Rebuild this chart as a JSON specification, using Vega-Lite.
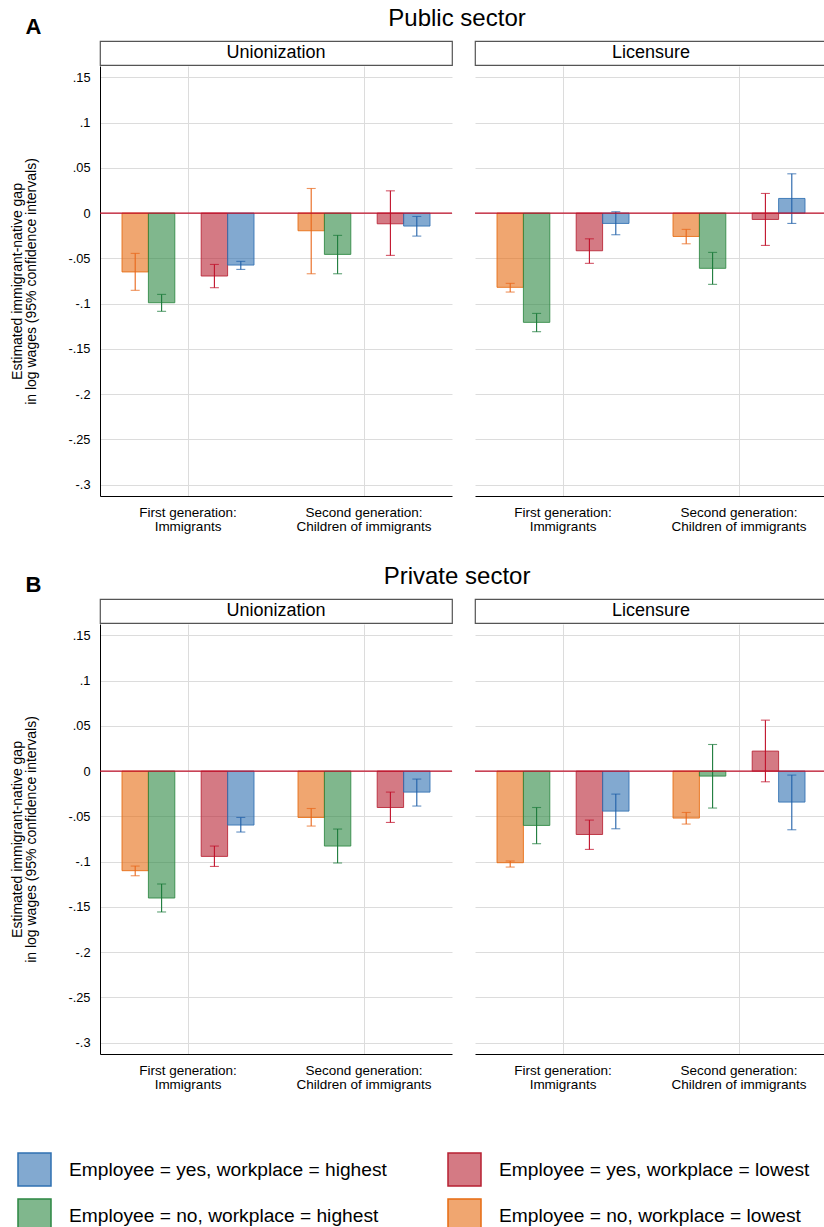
{
  "$schema": "https://vega.github.io/schema/vega-lite/v6.json",
  "background": "white",
  "padding": {"left": 10, "top": 7, "right": 5, "bottom": 5},
  "datasets": {
    "gaps": [
      {"sector": "Public sector", "measure": "Unionization", "generation": "First generation: Immigrants", "series": "Employee = no, workplace = lowest", "est": -0.065, "lo": -0.0853, "hi": -0.0445},
      {"sector": "Public sector", "measure": "Unionization", "generation": "First generation: Immigrants", "series": "Employee = no, workplace = highest", "est": -0.099, "lo": -0.1085, "hi": -0.0898},
      {"sector": "Public sector", "measure": "Unionization", "generation": "First generation: Immigrants", "series": "Employee = yes, workplace = lowest", "est": -0.0695, "lo": -0.0824, "hi": -0.0567},
      {"sector": "Public sector", "measure": "Unionization", "generation": "First generation: Immigrants", "series": "Employee = yes, workplace = highest", "est": -0.0574, "lo": -0.0622, "hi": -0.0533},
      {"sector": "Public sector", "measure": "Unionization", "generation": "Second generation: Children of immigrants", "series": "Employee = no, workplace = lowest", "est": -0.0195, "lo": -0.067, "hi": 0.0272},
      {"sector": "Public sector", "measure": "Unionization", "generation": "Second generation: Children of immigrants", "series": "Employee = no, workplace = highest", "est": -0.0456, "lo": -0.067, "hi": -0.0246},
      {"sector": "Public sector", "measure": "Unionization", "generation": "Second generation: Children of immigrants", "series": "Employee = yes, workplace = lowest", "est": -0.0118, "lo": -0.0467, "hi": 0.0246},
      {"sector": "Public sector", "measure": "Unionization", "generation": "Second generation: Children of immigrants", "series": "Employee = yes, workplace = highest", "est": -0.0143, "lo": -0.0254, "hi": -0.0037},
      {"sector": "Public sector", "measure": "Licensure", "generation": "First generation: Immigrants", "series": "Employee = no, workplace = lowest", "est": -0.082, "lo": -0.0872, "hi": -0.0776},
      {"sector": "Public sector", "measure": "Licensure", "generation": "First generation: Immigrants", "series": "Employee = no, workplace = highest", "est": -0.1207, "lo": -0.131, "hi": -0.1108},
      {"sector": "Public sector", "measure": "Licensure", "generation": "First generation: Immigrants", "series": "Employee = yes, workplace = lowest", "est": -0.0416, "lo": -0.0555, "hi": -0.0284},
      {"sector": "Public sector", "measure": "Licensure", "generation": "First generation: Immigrants", "series": "Employee = yes, workplace = highest", "est": -0.0114, "lo": -0.0239, "hi": 0.0015},
      {"sector": "Public sector", "measure": "Licensure", "generation": "Second generation: Children of immigrants", "series": "Employee = no, workplace = lowest", "est": -0.0258, "lo": -0.0339, "hi": -0.018},
      {"sector": "Public sector", "measure": "Licensure", "generation": "Second generation: Children of immigrants", "series": "Employee = no, workplace = highest", "est": -0.061, "lo": -0.0787, "hi": -0.0434},
      {"sector": "Public sector", "measure": "Licensure", "generation": "Second generation: Children of immigrants", "series": "Employee = yes, workplace = lowest", "est": -0.007, "lo": -0.0357, "hi": 0.0217},
      {"sector": "Public sector", "measure": "Licensure", "generation": "Second generation: Children of immigrants", "series": "Employee = yes, workplace = highest", "est": 0.0162, "lo": -0.0114, "hi": 0.0434},
      {"sector": "Private sector", "measure": "Unionization", "generation": "First generation: Immigrants", "series": "Employee = no, workplace = lowest", "est": -0.11, "lo": -0.1156, "hi": -0.1049},
      {"sector": "Private sector", "measure": "Unionization", "generation": "First generation: Immigrants", "series": "Employee = no, workplace = highest", "est": -0.1402, "lo": -0.1556, "hi": -0.1247},
      {"sector": "Private sector", "measure": "Unionization", "generation": "First generation: Immigrants", "series": "Employee = yes, workplace = lowest", "est": -0.0942, "lo": -0.1053, "hi": -0.0828},
      {"sector": "Private sector", "measure": "Unionization", "generation": "First generation: Immigrants", "series": "Employee = yes, workplace = highest", "est": -0.0596, "lo": -0.0673, "hi": -0.0512},
      {"sector": "Private sector", "measure": "Unionization", "generation": "Second generation: Children of immigrants", "series": "Employee = no, workplace = lowest", "est": -0.0512, "lo": -0.0607, "hi": -0.0413},
      {"sector": "Private sector", "measure": "Unionization", "generation": "Second generation: Children of immigrants", "series": "Employee = no, workplace = highest", "est": -0.0828, "lo": -0.1015, "hi": -0.064},
      {"sector": "Private sector", "measure": "Unionization", "generation": "Second generation: Children of immigrants", "series": "Employee = yes, workplace = lowest", "est": -0.0402, "lo": -0.0567, "hi": -0.0232},
      {"sector": "Private sector", "measure": "Unionization", "generation": "Second generation: Children of immigrants", "series": "Employee = yes, workplace = highest", "est": -0.0232, "lo": -0.0386, "hi": -0.0088},
      {"sector": "Private sector", "measure": "Licensure", "generation": "First generation: Immigrants", "series": "Employee = no, workplace = lowest", "est": -0.1012, "lo": -0.106, "hi": -0.0993},
      {"sector": "Private sector", "measure": "Licensure", "generation": "First generation: Immigrants", "series": "Employee = no, workplace = highest", "est": -0.06, "lo": -0.0802, "hi": -0.0402},
      {"sector": "Private sector", "measure": "Licensure", "generation": "First generation: Immigrants", "series": "Employee = yes, workplace = lowest", "est": -0.07, "lo": -0.0865, "hi": -0.0541},
      {"sector": "Private sector", "measure": "Licensure", "generation": "First generation: Immigrants", "series": "Employee = yes, workplace = highest", "est": -0.0442, "lo": -0.0637, "hi": -0.0254},
      {"sector": "Private sector", "measure": "Licensure", "generation": "Second generation: Children of immigrants", "series": "Employee = no, workplace = lowest", "est": -0.0519, "lo": -0.0585, "hi": -0.0457},
      {"sector": "Private sector", "measure": "Licensure", "generation": "Second generation: Children of immigrants", "series": "Employee = no, workplace = highest", "est": -0.0055, "lo": -0.0408, "hi": 0.0294},
      {"sector": "Private sector", "measure": "Licensure", "generation": "Second generation: Children of immigrants", "series": "Employee = yes, workplace = lowest", "est": 0.0221, "lo": -0.0118, "hi": 0.0563},
      {"sector": "Private sector", "measure": "Licensure", "generation": "Second generation: Children of immigrants", "series": "Employee = yes, workplace = highest", "est": -0.0342, "lo": -0.0648, "hi": -0.0044}
    ]
  },
  "config": {
    "font": "Liberation Sans",
    "view": {"stroke": null},
    "title": {"font": "Liberation Sans", "color": "black", "fontWeight": "normal"},
    "axis": {"labelFont": "Liberation Sans", "titleFont": "Liberation Sans", "labelColor": "black", "titleColor": "black", "gridColor": "#dcdcdc", "domainColor": "black", "ticks": false},
    "axisX": {"labelAngle": 0},
    "legend": {"labelFont": "Liberation Sans", "labelColor": "black"},
    "text": {"font": "Liberation Sans"}
  },
  "resolve": {"scale": {"fill": "shared", "stroke": "shared", "color": "shared"}},
  "spacing": 32,
  "vconcat": [
    {
      "title": {"text": "A", "anchor": "start", "frame": "bounds", "fontSize": 22, "fontWeight": "bold", "offset": -32, "dx": 15},
      "vconcat": [
        {
          "title": {"text": "Public sector", "anchor": "middle", "frame": "bounds", "fontSize": 24, "dx": 38, "offset": 9},
          "spacing": 21,
          "hconcat": [
            {
              "bounds": "flush",
              "spacing": 1,
              "vconcat": [
                {"width": 352, "height": 24, "view": {"stroke": "#555", "strokeWidth": 1.2}, "data": {"values": [{"measure": "Unionization"}]}, "mark": {"type": "text", "fontSize": 18, "color": "black"}, "encoding": {"text": {"field": "measure"}}},
                {
                  "width": 352, "height": 430,
                  "data": {"name": "gaps"},
                  "transform": [{"filter": "datum.sector === 'Public sector' && datum.measure === 'Unionization'"}],
                  "layer": [
                    {"mark": {"type": "bar", "fillOpacity": 0.6, "strokeWidth": 1, "strokeOpacity": 0.85},
                     "encoding": {
                       "x": {"field": "generation", "type": "nominal", "title": null, "scale": {"domain": ["First generation: Immigrants", "Second generation: Children of immigrants"], "paddingInner": 0.25, "paddingOuter": 0.125}, "axis": {"title": null, "grid": true, "bandPosition": 0.5, "labelAngle": 0, "labelFontSize": 13.5, "labelLineHeight": 14, "labelPadding": 9, "labelExpr": "[slice(datum.label, 0, indexof(datum.label, ':') + 1), slice(datum.label, indexof(datum.label, ':') + 2)]"}},
                       "xOffset": {"field": "series", "type": "nominal", "scale": {"domain": ["Employee = no, workplace = lowest", "Employee = no, workplace = highest", " ", "Employee = yes, workplace = lowest", "Employee = yes, workplace = highest"], "paddingInner": 0, "paddingOuter": 0}},
                       "y": {"field": "est", "type": "quantitative", "title": ["Estimated immigrant-native gap", "in log wages (95% confidence intervals)"], "scale": {"domain": [-0.3125, 0.1625], "nice": false, "zero": false}, "axis": {"values": [0.15, 0.1, 0.05, 0, -0.05, -0.1, -0.15, -0.2, -0.25, -0.3], "labelExpr": "replace(toString(datum.value), '0.', '.')", "labelFontSize": 12.8, "labelPadding": 10, "titleFontSize": 14, "titleLineHeight": 14.5, "titleFontWeight": "normal", "titlePadding": 29}},
                       "fill": {"field": "series", "type": "nominal", "title": null, "scale": {"domain": ["Employee = yes, workplace = highest", "Employee = yes, workplace = lowest", "Employee = no, workplace = highest", "Employee = no, workplace = lowest"], "range": ["#2F70B1", "#B72132", "#2B8741", "#E66B11"]}, "legend": {"orient": "none", "legendX": -83, "legendY": 1111, "direction": "horizontal", "columns": 2, "symbolType": "square", "symbolSize": 1089, "symbolStrokeWidth": 1.5, "labelFontSize": 19.2, "labelOffset": 17, "columnPadding": 58, "rowPadding": 7, "labelLimit": 400, "encode": {"symbols": {"update": {"fillOpacity": {"value": 0.6}}}}}},
                       "stroke": {"field": "series", "type": "nominal", "title": null, "scale": {"domain": ["Employee = yes, workplace = highest", "Employee = yes, workplace = lowest", "Employee = no, workplace = highest", "Employee = no, workplace = lowest"], "range": ["#2F70B1", "#B72132", "#2B8741", "#E66B11"]}}
                     }},
                    {"mark": {"type": "rule", "strokeWidth": 1.1},
                     "encoding": {
                       "x": {"field": "generation", "type": "nominal", "title": null},
                       "xOffset": {"field": "series", "type": "nominal"},
                       "y": {"field": "lo", "type": "quantitative", "title": ["Estimated immigrant-native gap", "in log wages (95% confidence intervals)"]},
                       "y2": {"field": "hi"},
                       "color": {"field": "series", "type": "nominal", "legend": null, "scale": {"domain": ["Employee = yes, workplace = highest", "Employee = yes, workplace = lowest", "Employee = no, workplace = highest", "Employee = no, workplace = lowest"], "range": ["#2060A8", "#C0102A", "#1B7A3A", "#E8661A"]}}
                     }},
                    {"mark": {"type": "tick", "size": 9, "thickness": 1.1},
                     "encoding": {
                       "x": {"field": "generation", "type": "nominal", "title": null},
                       "xOffset": {"field": "series", "type": "nominal"},
                       "y": {"field": "lo", "type": "quantitative", "title": ["Estimated immigrant-native gap", "in log wages (95% confidence intervals)"]},
                       "color": {"field": "series", "type": "nominal", "legend": null}
                     }},
                    {"mark": {"type": "tick", "size": 9, "thickness": 1.1},
                     "encoding": {
                       "x": {"field": "generation", "type": "nominal", "title": null},
                       "xOffset": {"field": "series", "type": "nominal"},
                       "y": {"field": "hi", "type": "quantitative", "title": ["Estimated immigrant-native gap", "in log wages (95% confidence intervals)"]},
                       "color": {"field": "series", "type": "nominal", "legend": null}
                     }},
                    {"data": {"values": [{}]}, "mark": {"type": "rule", "color": "#C0102A", "strokeWidth": 1.2}, "encoding": {"y": {"datum": 0, "type": "quantitative", "title": ["Estimated immigrant-native gap", "in log wages (95% confidence intervals)"]}}}
                  ]
                }
              ]
            },
            {
              "bounds": "flush",
              "spacing": 1,
              "vconcat": [
                {"width": 352, "height": 24, "view": {"stroke": "#555", "strokeWidth": 1.2}, "data": {"values": [{"measure": "Licensure"}]}, "mark": {"type": "text", "fontSize": 18, "color": "black"}, "encoding": {"text": {"field": "measure"}}},
                {
                  "width": 352, "height": 430,
                  "data": {"name": "gaps"},
                  "transform": [{"filter": "datum.sector === 'Public sector' && datum.measure === 'Licensure'"}],
                  "layer": [
                    {"mark": {"type": "bar", "fillOpacity": 0.6, "strokeWidth": 1, "strokeOpacity": 0.85},
                     "encoding": {
                       "x": {"field": "generation", "type": "nominal", "title": null, "scale": {"domain": ["First generation: Immigrants", "Second generation: Children of immigrants"], "paddingInner": 0.25, "paddingOuter": 0.125}, "axis": {"title": null, "grid": true, "bandPosition": 0.5, "labelAngle": 0, "labelFontSize": 13.5, "labelLineHeight": 14, "labelPadding": 9, "labelExpr": "[slice(datum.label, 0, indexof(datum.label, ':') + 1), slice(datum.label, indexof(datum.label, ':') + 2)]"}},
                       "xOffset": {"field": "series", "type": "nominal", "scale": {"domain": ["Employee = no, workplace = lowest", "Employee = no, workplace = highest", " ", "Employee = yes, workplace = lowest", "Employee = yes, workplace = highest"], "paddingInner": 0, "paddingOuter": 0}},
                       "y": {"field": "est", "type": "quantitative", "title": null, "scale": {"domain": [-0.3125, 0.1625], "nice": false, "zero": false}, "axis": {"values": [0.15, 0.1, 0.05, 0, -0.05, -0.1, -0.15, -0.2, -0.25, -0.3], "labels": false, "domain": false, "title": null}},
                       "fill": {"field": "series", "type": "nominal", "title": null},
                       "stroke": {"field": "series", "type": "nominal", "title": null}
                     }},
                    {"mark": {"type": "rule", "strokeWidth": 1.1},
                     "encoding": {
                       "x": {"field": "generation", "type": "nominal", "title": null},
                       "xOffset": {"field": "series", "type": "nominal"},
                       "y": {"field": "lo", "type": "quantitative", "title": null},
                       "y2": {"field": "hi"},
                       "color": {"field": "series", "type": "nominal", "legend": null}
                     }},
                    {"mark": {"type": "tick", "size": 9, "thickness": 1.1},
                     "encoding": {
                       "x": {"field": "generation", "type": "nominal", "title": null},
                       "xOffset": {"field": "series", "type": "nominal"},
                       "y": {"field": "lo", "type": "quantitative", "title": null},
                       "color": {"field": "series", "type": "nominal", "legend": null}
                     }},
                    {"mark": {"type": "tick", "size": 9, "thickness": 1.1},
                     "encoding": {
                       "x": {"field": "generation", "type": "nominal", "title": null},
                       "xOffset": {"field": "series", "type": "nominal"},
                       "y": {"field": "hi", "type": "quantitative", "title": null},
                       "color": {"field": "series", "type": "nominal", "legend": null}
                     }},
                    {"data": {"values": [{}]}, "mark": {"type": "rule", "color": "#C0102A", "strokeWidth": 1.2}, "encoding": {"y": {"datum": 0, "type": "quantitative", "title": null}}}
                  ]
                }
              ]
            }
          ]
        }
      ]
    },
    {
      "title": {"text": "B", "anchor": "start", "frame": "bounds", "fontSize": 22, "fontWeight": "bold", "offset": -32, "dx": 15},
      "vconcat": [
        {
          "title": {"text": "Private sector", "anchor": "middle", "frame": "bounds", "fontSize": 24, "dx": 38, "offset": 9},
          "spacing": 21,
          "hconcat": [
            {
              "bounds": "flush",
              "spacing": 1,
              "vconcat": [
                {"width": 352, "height": 24, "view": {"stroke": "#555", "strokeWidth": 1.2}, "data": {"values": [{"measure": "Unionization"}]}, "mark": {"type": "text", "fontSize": 18, "color": "black"}, "encoding": {"text": {"field": "measure"}}},
                {
                  "width": 352, "height": 430,
                  "data": {"name": "gaps"},
                  "transform": [{"filter": "datum.sector === 'Private sector' && datum.measure === 'Unionization'"}],
                  "layer": [
                    {"mark": {"type": "bar", "fillOpacity": 0.6, "strokeWidth": 1, "strokeOpacity": 0.85},
                     "encoding": {
                       "x": {"field": "generation", "type": "nominal", "title": null, "scale": {"domain": ["First generation: Immigrants", "Second generation: Children of immigrants"], "paddingInner": 0.25, "paddingOuter": 0.125}, "axis": {"title": null, "grid": true, "bandPosition": 0.5, "labelAngle": 0, "labelFontSize": 13.5, "labelLineHeight": 14, "labelPadding": 9, "labelExpr": "[slice(datum.label, 0, indexof(datum.label, ':') + 1), slice(datum.label, indexof(datum.label, ':') + 2)]"}},
                       "xOffset": {"field": "series", "type": "nominal", "scale": {"domain": ["Employee = no, workplace = lowest", "Employee = no, workplace = highest", " ", "Employee = yes, workplace = lowest", "Employee = yes, workplace = highest"], "paddingInner": 0, "paddingOuter": 0}},
                       "y": {"field": "est", "type": "quantitative", "title": ["Estimated immigrant-native gap", "in log wages (95% confidence intervals)"], "scale": {"domain": [-0.3125, 0.1625], "nice": false, "zero": false}, "axis": {"values": [0.15, 0.1, 0.05, 0, -0.05, -0.1, -0.15, -0.2, -0.25, -0.3], "labelExpr": "replace(toString(datum.value), '0.', '.')", "labelFontSize": 12.8, "labelPadding": 10, "titleFontSize": 14, "titleLineHeight": 14.5, "titleFontWeight": "normal", "titlePadding": 29}},
                       "fill": {"field": "series", "type": "nominal", "title": null},
                       "stroke": {"field": "series", "type": "nominal", "title": null}
                     }},
                    {"mark": {"type": "rule", "strokeWidth": 1.1},
                     "encoding": {
                       "x": {"field": "generation", "type": "nominal", "title": null},
                       "xOffset": {"field": "series", "type": "nominal"},
                       "y": {"field": "lo", "type": "quantitative", "title": ["Estimated immigrant-native gap", "in log wages (95% confidence intervals)"]},
                       "y2": {"field": "hi"},
                       "color": {"field": "series", "type": "nominal", "legend": null}
                     }},
                    {"mark": {"type": "tick", "size": 9, "thickness": 1.1},
                     "encoding": {
                       "x": {"field": "generation", "type": "nominal", "title": null},
                       "xOffset": {"field": "series", "type": "nominal"},
                       "y": {"field": "lo", "type": "quantitative", "title": ["Estimated immigrant-native gap", "in log wages (95% confidence intervals)"]},
                       "color": {"field": "series", "type": "nominal", "legend": null}
                     }},
                    {"mark": {"type": "tick", "size": 9, "thickness": 1.1},
                     "encoding": {
                       "x": {"field": "generation", "type": "nominal", "title": null},
                       "xOffset": {"field": "series", "type": "nominal"},
                       "y": {"field": "hi", "type": "quantitative", "title": ["Estimated immigrant-native gap", "in log wages (95% confidence intervals)"]},
                       "color": {"field": "series", "type": "nominal", "legend": null}
                     }},
                    {"data": {"values": [{}]}, "mark": {"type": "rule", "color": "#C0102A", "strokeWidth": 1.2}, "encoding": {"y": {"datum": 0, "type": "quantitative", "title": ["Estimated immigrant-native gap", "in log wages (95% confidence intervals)"]}}}
                  ]
                }
              ]
            },
            {
              "bounds": "flush",
              "spacing": 1,
              "vconcat": [
                {"width": 352, "height": 24, "view": {"stroke": "#555", "strokeWidth": 1.2}, "data": {"values": [{"measure": "Licensure"}]}, "mark": {"type": "text", "fontSize": 18, "color": "black"}, "encoding": {"text": {"field": "measure"}}},
                {
                  "width": 352, "height": 430,
                  "data": {"name": "gaps"},
                  "transform": [{"filter": "datum.sector === 'Private sector' && datum.measure === 'Licensure'"}],
                  "layer": [
                    {"mark": {"type": "bar", "fillOpacity": 0.6, "strokeWidth": 1, "strokeOpacity": 0.85},
                     "encoding": {
                       "x": {"field": "generation", "type": "nominal", "title": null, "scale": {"domain": ["First generation: Immigrants", "Second generation: Children of immigrants"], "paddingInner": 0.25, "paddingOuter": 0.125}, "axis": {"title": null, "grid": true, "bandPosition": 0.5, "labelAngle": 0, "labelFontSize": 13.5, "labelLineHeight": 14, "labelPadding": 9, "labelExpr": "[slice(datum.label, 0, indexof(datum.label, ':') + 1), slice(datum.label, indexof(datum.label, ':') + 2)]"}},
                       "xOffset": {"field": "series", "type": "nominal", "scale": {"domain": ["Employee = no, workplace = lowest", "Employee = no, workplace = highest", " ", "Employee = yes, workplace = lowest", "Employee = yes, workplace = highest"], "paddingInner": 0, "paddingOuter": 0}},
                       "y": {"field": "est", "type": "quantitative", "title": null, "scale": {"domain": [-0.3125, 0.1625], "nice": false, "zero": false}, "axis": {"values": [0.15, 0.1, 0.05, 0, -0.05, -0.1, -0.15, -0.2, -0.25, -0.3], "labels": false, "domain": false, "title": null}},
                       "fill": {"field": "series", "type": "nominal", "title": null},
                       "stroke": {"field": "series", "type": "nominal", "title": null}
                     }},
                    {"mark": {"type": "rule", "strokeWidth": 1.1},
                     "encoding": {
                       "x": {"field": "generation", "type": "nominal", "title": null},
                       "xOffset": {"field": "series", "type": "nominal"},
                       "y": {"field": "lo", "type": "quantitative", "title": null},
                       "y2": {"field": "hi"},
                       "color": {"field": "series", "type": "nominal", "legend": null}
                     }},
                    {"mark": {"type": "tick", "size": 9, "thickness": 1.1},
                     "encoding": {
                       "x": {"field": "generation", "type": "nominal", "title": null},
                       "xOffset": {"field": "series", "type": "nominal"},
                       "y": {"field": "lo", "type": "quantitative", "title": null},
                       "color": {"field": "series", "type": "nominal", "legend": null}
                     }},
                    {"mark": {"type": "tick", "size": 9, "thickness": 1.1},
                     "encoding": {
                       "x": {"field": "generation", "type": "nominal", "title": null},
                       "xOffset": {"field": "series", "type": "nominal"},
                       "y": {"field": "hi", "type": "quantitative", "title": null},
                       "color": {"field": "series", "type": "nominal", "legend": null}
                     }},
                    {"data": {"values": [{}]}, "mark": {"type": "rule", "color": "#C0102A", "strokeWidth": 1.2}, "encoding": {"y": {"datum": 0, "type": "quantitative", "title": null}}}
                  ]
                }
              ]
            }
          ]
        }
      ]
    }
  ]
}
